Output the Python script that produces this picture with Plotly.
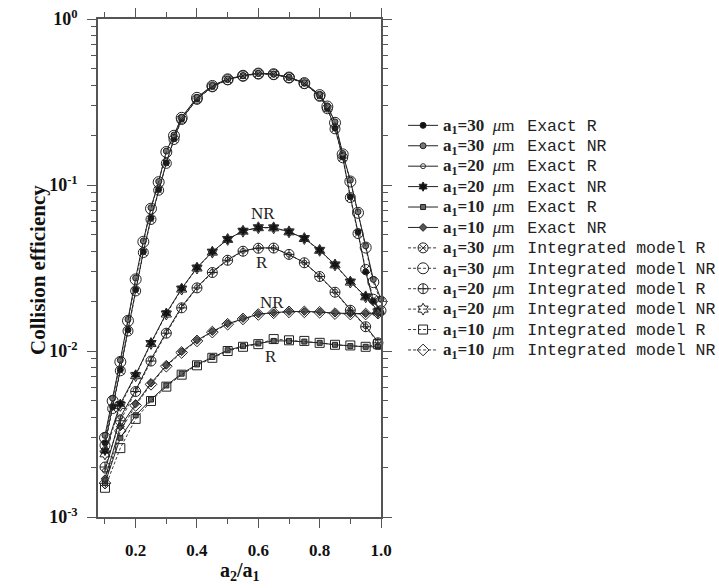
import numpy as np
import plotly.graph_objects as go

# ---- data -------------------------------------------------------------
x30 = [0.1, 0.125, 0.15, 0.175, 0.2, 0.225, 0.25, 0.275, 0.3, 0.325, 0.35,
       0.4, 0.45, 0.5, 0.55, 0.6, 0.65, 0.7, 0.75, 0.8, 0.825, 0.85, 0.875,
       0.9, 0.925, 0.95, 0.975, 1.0]
x_small = [0.1, 0.15, 0.2, 0.25, 0.3, 0.35, 0.4, 0.45, 0.5, 0.55, 0.6, 0.65,
           0.7, 0.75, 0.8, 0.85, 0.9, 0.95, 0.99]

e30_exact_R = [0.0028, 0.0046, 0.0077, 0.0134, 0.0234, 0.0396, 0.063, 0.094,
               0.136, 0.19, 0.25, 0.33, 0.392, 0.432, 0.455, 0.470, 0.465,
               0.445, 0.41, 0.345, 0.29, 0.22, 0.148, 0.085, 0.052, 0.030,
               0.020, 0.017]
e30_exact_NR = [0.0031, 0.0052, 0.0088, 0.0155, 0.0275, 0.046, 0.073, 0.105,
                0.160, 0.200, 0.256, 0.337, 0.397, 0.435, 0.456, 0.471, 0.466,
                0.446, 0.413, 0.350, 0.300, 0.240, 0.155, 0.107, 0.069, 0.043,
                0.027, 0.0205]
e20_exact_R = [0.0019, 0.0040, 0.0058, 0.0089, 0.0130, 0.0185, 0.0242, 0.0300,
               0.0355, 0.0401, 0.0418, 0.0418, 0.0380, 0.0341, 0.0283, 0.0228,
               0.0178, 0.0141, 0.0114]
e20_exact_NR = [0.0025, 0.0048, 0.0072, 0.0112, 0.0169, 0.0238, 0.0318, 0.0396,
                0.0471, 0.0529, 0.0554, 0.0554, 0.0523, 0.0477, 0.0405, 0.0331,
                0.0262, 0.0213, 0.0175]
e10_exact_R = [0.0016, 0.0030, 0.0041, 0.0051, 0.0062, 0.0073, 0.0083, 0.0092,
               0.0101, 0.0107, 0.0111, 0.0115, 0.0115, 0.0114, 0.0112, 0.0109,
               0.0107, 0.0106, 0.0106]
e10_exact_NR = [0.0017, 0.0035, 0.0048, 0.0064, 0.0082, 0.0099, 0.0116, 0.0131,
                0.0146, 0.0157, 0.0167, 0.0170, 0.0173, 0.0173, 0.0172, 0.0169,
                0.0168, 0.0168, 0.0170]

e30_int_R = [0.0027, 0.0045, 0.0076, 0.0132, 0.0230, 0.0392, 0.062, 0.093,
             0.135, 0.188, 0.248, 0.328, 0.390, 0.431, 0.454, 0.468, 0.463,
             0.443, 0.408, 0.342, 0.288, 0.218, 0.146, 0.084, 0.051, 0.031,
             0.0205, 0.0175]
e30_int_NR = [0.0030, 0.0050, 0.0086, 0.0152, 0.0270, 0.0455, 0.072, 0.104,
              0.158, 0.198, 0.254, 0.335, 0.395, 0.433, 0.455, 0.469, 0.465,
              0.444, 0.411, 0.348, 0.297, 0.237, 0.153, 0.105, 0.068, 0.042,
              0.026, 0.0198]
e20_int_R = [0.0020, 0.0038, 0.0057, 0.0087, 0.0128, 0.0182, 0.0240, 0.0297,
             0.0352, 0.0399, 0.0416, 0.0417, 0.0382, 0.0340, 0.0281, 0.0226,
             0.0176, 0.0140, 0.0112]
e20_int_NR = [0.0024, 0.0047, 0.0071, 0.0111, 0.0167, 0.0236, 0.0316, 0.0394,
              0.0470, 0.0527, 0.0553, 0.0552, 0.0522, 0.0476, 0.0404, 0.0330,
              0.0260, 0.0212, 0.0172]
e10_int_R = [0.0015, 0.0026, 0.0039, 0.0050, 0.0061, 0.0072, 0.0082, 0.0091,
             0.0100, 0.0106, 0.0110, 0.0118, 0.0116, 0.0115, 0.0112, 0.0109,
             0.0108, 0.0106, 0.0110]
e10_int_NR = [0.0016, 0.0033, 0.0047, 0.0063, 0.0081, 0.0098, 0.0115, 0.0130,
              0.0145, 0.0156, 0.0166, 0.0170, 0.0172, 0.0172, 0.0171, 0.0168,
              0.0167, 0.0167, 0.0169]

y_tickvals = [0.001, 0.01, 0.1, 1.0]
y_ticktext = ["<b>10<sup>-3</sup></b>", "<b>10<sup>-2</sup></b>",
              "<b>10<sup>-1</sup></b>", "<b>10<sup>0</sup></b>"]
x_tickvals = [0.2, 0.4, 0.6, 0.8, 1.0]
x_ticktext = ["<b>0.2</b>", "<b>0.4</b>", "<b>0.6</b>", "<b>0.8</b>", "<b>1.0</b>"]

curve_labels = [("NR", 0.615, 0.0678), ("R", 0.612, 0.034),
                ("NR", 0.645, 0.0197), ("R", 0.642, 0.0093)]

# ---- styling ----------------------------------------------------------
SERIF = "Liberation Serif"
MONO = "Liberation Mono"


def legend_name(size, kind):
    serif_part = ('<span style="font-family:\'%s\';font-size:17px">'
                  '<b>a<sub>1</sub>=%d</b>\u2002<i>\u03bc</i>m\u2002 </span>'
                  % (SERIF, size))
    mono_part = ('<span style="font-family:\'%s\';font-size:16.5px">%s</span>'
                 % (MONO, kind))
    return serif_part + mono_part


series = [
    # x, y, size, label, symbol, marker size, fill, dash
    (x30, e30_exact_R, 30, "Exact R", "circle", 6, "#111", "solid"),
    (x30, e30_exact_NR, 30, "Exact NR", "circle", 6, "#777", "solid"),
    (x_small, e20_exact_R, 20, "Exact R", "circle-open", 5, "#333", "solid"),
    (x_small, e20_exact_NR, 20, "Exact NR", "hexagram", 7, "#111", "solid"),
    (x_small, e10_exact_R, 10, "Exact R", "square", 5, "#666", "solid"),
    (x_small, e10_exact_NR, 10, "Exact NR", "diamond", 6, "#555", "solid"),
    (x30, e30_int_R, 30, "Integrated model R", "circle-x-open", 10, "#222", "dash"),
    (x30, e30_int_NR, 30, "Integrated model NR", "circle-open", 11, "#222", "dash"),
    (x_small, e20_int_R, 20, "Integrated model R", "circle-cross-open", 10, "#222", "dash"),
    (x_small, e20_int_NR, 20, "Integrated model NR", "hexagram-open", 9, "#222", "dash"),
    (x_small, e10_int_R, 10, "Integrated model R", "square-open", 9, "#222", "dash"),
    (x_small, e10_int_NR, 10, "Integrated model NR", "diamond-open", 9, "#222", "dash"),
]

fig = go.Figure()
for xs, ys, size, kind, sym, msize, fill, dash in series:
    fig.add_trace(go.Scatter(
        x=xs, y=ys, mode="lines+markers", name=legend_name(size, kind),
        line=dict(color="#222", width=1 if dash == "solid" else 0.9,
                  dash="solid" if dash == "solid" else "3px,2px"),
        marker=dict(symbol=sym, size=msize, color=fill,
                    line=dict(color="#222", width=1)),
        cliponaxis=False,
    ))

for text, xv, yv in curve_labels:
    fig.add_annotation(x=xv, y=np.log10(yv), xref="x", yref="y", text=text,
                       showarrow=False,
                       font=dict(family=SERIF, size=17, color="#222"))

fig.add_annotation(x=-0.212, y=0.496, xref="paper", yref="paper",
                   xanchor="center", yanchor="middle",
                   text="<b>Collision efficiency</b>", textangle=-90,
                   showarrow=False, font=dict(family=SERIF, size=21, color="#111"))
fig.add_annotation(x=0.502, y=-0.110, xref="paper", yref="paper",
                   xanchor="center", yanchor="middle",
                   text="<b>a<sub>2</sub>/a<sub>1</sub></b>",
                   showarrow=False, font=dict(family=SERIF, size=20, color="#111"))

axis_common = dict(showline=True, linecolor="#555", linewidth=1.5,
                   mirror="ticks", ticks="outside", tickcolor="#555",
                   tickwidth=1.2, showgrid=False, zeroline=False)

fig.update_xaxes(range=[0.0772, 1.0], tickmode="array", tickvals=x_tickvals,
                 ticktext=x_ticktext, ticklen=9, ticklabelstandoff=8,
                 tickfont=dict(family=SERIF, size=17, color="#111"),
                 minor=dict(tickmode="array", tickvals=[0.1, 0.3, 0.5, 0.7, 0.9],
                            ticks="outside", ticklen=5, tickcolor="#555",
                            tickwidth=1.2),
                 **axis_common)
fig.update_yaxes(type="log", range=[-3, 0], tickmode="array",
                 tickvals=y_tickvals, ticktext=y_ticktext, ticklen=9,
                 ticklabelstandoff=6,
                 tickfont=dict(family=SERIF, size=18, color="#111"),
                 minor=dict(ticks="outside", ticklen=5, tickcolor="#555",
                            tickwidth=1.2, dtick="D1"),
                 **axis_common)

fig.update_layout(
    width=719, height=588, autosize=False,
    margin=dict(l=98, r=338, t=19, b=71, autoexpand=False),
    plot_bgcolor="white", paper_bgcolor="white",
    showlegend=True,
    legend=dict(x=1.078, y=0.817, xanchor="left", yanchor="top",
                font=dict(family=MONO, size=13.4, color="#222"),
                bgcolor="rgba(0,0,0,0)", tracegroupgap=0,
                itemwidth=30),
)

fig.write_html("out.html")
